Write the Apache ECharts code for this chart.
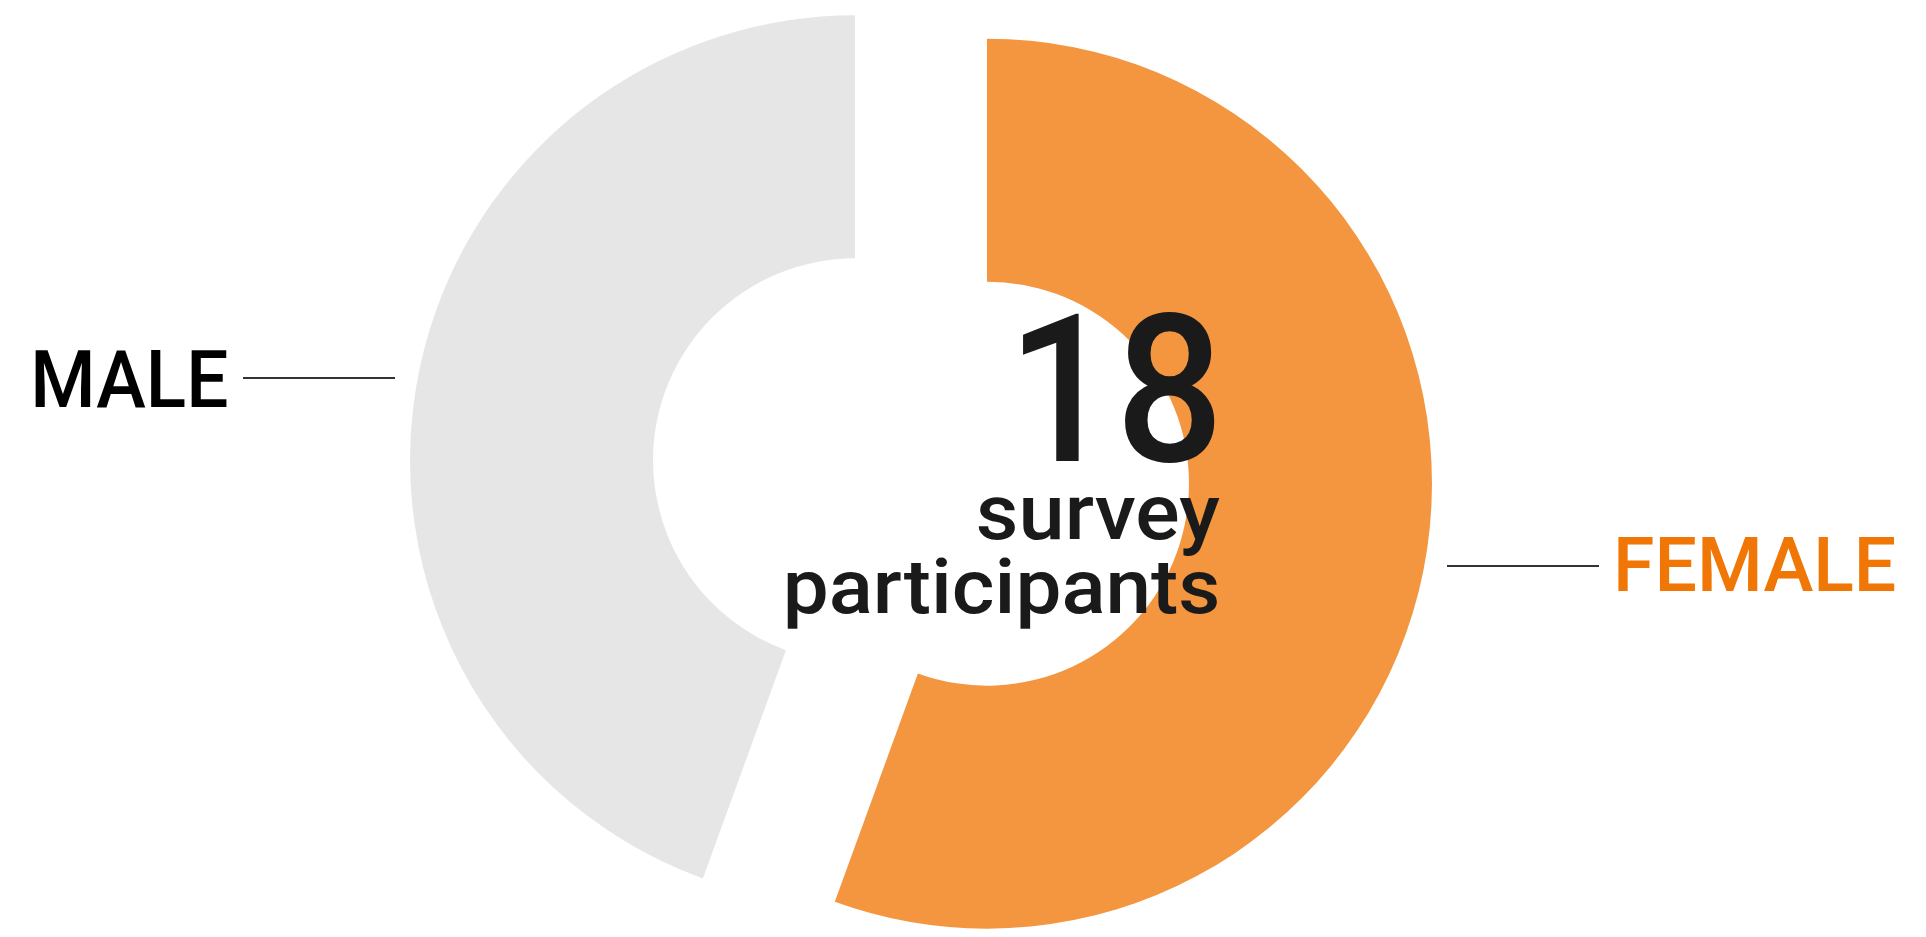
<!DOCTYPE html>
<html>
<head>
<meta charset="utf-8">
<title>Survey participants by gender</title>
<script src="https://cdn.jsdelivr.net/npm/echarts@6/dist/echarts.min.js"></script>
<style>
  html, body { margin: 0; padding: 0; background: #ffffff; }
  #chart { width: 1926px; height: 937px; }
</style>
</head>
<body>
<div id="chart"></div>
<script>
// Participants by gender
const categories = ['FEMALE', 'MALE'];
const counts = [10, 8];
const captionLines = ['survey', 'participants'];

// Styling
const sliceColors = ['#F3963F', '#E6E6E6'];
const labelColors = ['#F07605', '#000000'];
const FAMILY = "Roboto, 'DejaVu Sans', sans-serif";
const WEIGHT = '500';

const total = counts.reduce((a, b) => a + b, 0);

// Text boxes (ink extents) for the labels and the centre caption
const labelBoxes = [
  { left: 1618, right: 1895, top: 537, bottom: 593 },   // FEMALE
  { left: 35, right: 227, top: 350, bottom: 408 }       // MALE
];
const guideLines = [
  { x1: 1447, x2: 1599, y: 566 },
  { x1: 243, x2: 395, y: 378 }
];
const totalBox = { left: 1023, right: 1215, top: 312, bottom: 465 };
const captionBoxes = [
  { left: 978, right: 1220, top: 497, bottom: 555 },
  { left: 787, right: 1218, top: 557, bottom: 628 }
];

// Fit a text element into a box using the font's own ink metrics
const measureCtx = document.createElement('canvas').getContext('2d');
function fittedText(text, box, fill) {
  const probe = 100;
  measureCtx.font = WEIGHT + ' ' + probe + 'px ' + FAMILY;
  measureCtx.textBaseline = 'middle';
  let m = measureCtx.measureText(text);
  const inkH = m.actualBoundingBoxAscent + m.actualBoundingBoxDescent;
  const size = probe * (box.bottom - box.top) / inkH;
  measureCtx.font = WEIGHT + ' ' + size + 'px ' + FAMILY;
  m = measureCtx.measureText(text);
  const inkW = m.actualBoundingBoxLeft + m.actualBoundingBoxRight;
  const sx = (box.right - box.left) / inkW;
  return {
    type: 'text',
    x: box.left + m.actualBoundingBoxLeft * sx,
    y: box.top + m.actualBoundingBoxAscent,
    scaleX: sx,
    silent: true,
    z: 10,
    style: {
      text: text,
      x: 0,
      y: 0,
      align: 'left',
      verticalAlign: 'middle',
      font: WEIGHT + ' ' + size + 'px ' + FAMILY,
      fill: fill
    }
  };
}

const graphics = [];
categories.forEach((name, i) => {
  graphics.push(fittedText(name, labelBoxes[i], labelColors[i]));
  const g = guideLines[i];
  graphics.push({
    type: 'line',
    silent: true,
    shape: { x1: g.x1, y1: g.y, x2: g.x2, y2: g.y },
    style: { stroke: '#333333', lineWidth: 2 }
  });
});
graphics.push(fittedText(String(total), totalBox, '#1a1a1a'));
captionLines.forEach((line, i) => graphics.push(fittedText(line, captionBoxes[i], '#1a1a1a')));

const chart = echarts.init(document.getElementById('chart'));

chart.setOption({
  animation: false,
  backgroundColor: '#ffffff',
  series: [{
    type: 'pie',
    center: [921, 472],
    radius: [202, 445],
    startAngle: 90,
    clockwise: true,
    selectedMode: 'multiple',
    selectedOffset: 67,
    silent: true,
    emphasis: { disabled: true },
    label: { show: false },
    labelLine: { show: false },
    data: categories.map((name, i) => ({
      name: name,
      value: counts[i],
      selected: true,
      itemStyle: { color: sliceColors[i], borderWidth: 0 },
      select: { itemStyle: { color: sliceColors[i], borderWidth: 0 } }
    }))
  }],
  graphic: graphics
});
</script>
</body>
</html>
